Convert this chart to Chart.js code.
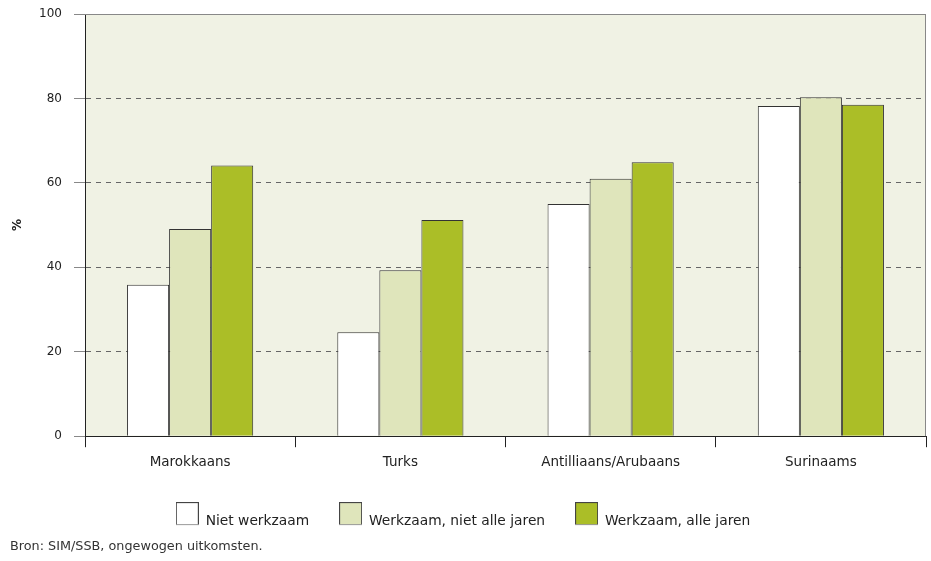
<!DOCTYPE html>
<html>
<head>
<meta charset="utf-8">
<script src="https://cdn.jsdelivr.net/npm/chart.js@4"></script>
<style>
  html, body { margin: 0; padding: 0; background: #fff; }
  #wrap { width: 931px; height: 561px; }
</style>
</head>
<body>
<div id="wrap"><canvas id="myChart" width="931" height="561"></canvas></div>
<script>
var categories = ['Marokkaans', 'Turks', 'Antilliaans/Arubaans', 'Surinaams']
var nietWerkzaam = [35.9, 24.6, 55.0, 78.2]
var werkzaamNietAlle = [49.1, 39.3, 61.0, 80.3]
var werkzaamAlle = [64.1, 51.2, 64.9, 78.5]
var seriesLabels = ['Niet werkzaam', 'Werkzaam, niet alle jaren', 'Werkzaam, alle jaren']
var yMin = 0, yMax = 100, yStep = 20
var footerText = 'Bron: SIM/SSB, ongewogen uitkomsten.'

var colors = ['#ffffff', '#dfe5bb', '#abbe27']

Chart.defaults.font.family = '"DejaVu Sans", "Liberation Sans", sans-serif'
Chart.defaults.color = '#222'

// legend swatch: box sits higher than the label text, like the original
function swatch(fill) {
  var c = document.createElement('canvas')
  c.width = 23
  c.height = 38
  var g = c.getContext('2d')
  g.fillStyle = fill
  g.fillRect(0, 0, 23, 23)
  g.strokeStyle = '#444'
  g.lineWidth = 1
  g.strokeRect(0.5, 0.5, 22, 22)
  g.strokeStyle = '#999'
  g.beginPath(); g.moveTo(0, 22.5); g.lineTo(23, 22.5); g.stroke()
  return c
}

var decor = {
  id: 'decor',
  beforeDraw: function(chart) {
    var a = chart.chartArea, ctx = chart.ctx
    ctx.save()
    ctx.fillStyle = '#f0f2e4'
    ctx.fillRect(a.left, a.top, a.right - a.left, a.bottom - a.top)
    ctx.restore()
  },
  beforeDatasetsDraw: function(chart) {
    var a = chart.chartArea, ctx = chart.ctx
    ctx.save()
    ctx.strokeStyle = '#888'
    ctx.lineWidth = 1
    ctx.beginPath()
    ctx.moveTo(a.left - 11, Math.round(a.top) + 0.5)
    ctx.lineTo(a.right, Math.round(a.top) + 0.5)
    ctx.moveTo(Math.round(a.right) - 0.5, a.top)
    ctx.lineTo(Math.round(a.right) - 0.5, a.bottom)
    ctx.stroke()
    ctx.restore()
  },
  afterDraw: function(chart) {
    var ctx = chart.ctx
    ctx.save()
    ctx.fillStyle = '#333'
    ctx.font = '12.8px "DejaVu Sans", "Liberation Sans", sans-serif'
    ctx.textBaseline = 'middle'
    ctx.fillText(footerText, 10, 547)
    ctx.restore()
  }
}

var seriesData = [nietWerkzaam, werkzaamNietAlle, werkzaamAlle]
var datasets = seriesData.map(function(d, i) {
  return {
    label: seriesLabels[i],
    data: d,
    backgroundColor: colors[i],
    borderColor: '#333',
    borderWidth: 1,
    pointStyle: swatch(colors[i]),
    categoryPercentage: 0.6,
    barPercentage: 1.0
  }
})

var ctx = document.getElementById('myChart')
var myChart = new Chart(ctx, {
  type: 'bar',
  data: { labels: categories, datasets: datasets },
  options: {
    responsive: false,
    animation: false,
    layout: { padding: { top: 14, right: 5, bottom: 23, left: 0 } },
    plugins: {
      tooltip: { enabled: false },
      legend: {
        position: 'bottom',
        labels: {
          usePointStyle: true,
          pointStyleWidth: 23,
          padding: 30,
          color: '#222',
          font: { size: 13.8 }
        }
      }
    },
    scales: {
      x: {
        offset: true,
        grid: {
          offset: true,
          drawOnChartArea: false,
          tickLength: 11,
          color: '#222'
        },
        border: { color: '#222', width: 1 },
        ticks: { padding: 7, font: { size: 13.5 }, color: '#222', maxRotation: 0 },
        afterFit: function(scale) { scale.height = 48 }
      },
      y: {
        min: yMin,
        max: yMax,
        ticks: { stepSize: yStep, padding: 12, font: { size: 12 }, color: '#222' },
        grid: {
          color: '#666',
          tickColor: '#888',
          tickLength: 11,
          lineWidth: 1
        },
        border: { color: '#222', width: 1, dash: [5, 5] },
        title: {
          display: true,
          text: '%',
          font: { size: 12, weight: 'bold' },
          color: '#222',
          padding: { top: 11, bottom: 0 }
        },
        afterFit: function(scale) {
          scale.width = 85
          scale.paddingTop = 0
          scale.paddingBottom = 0
        }
      }
    }
  },
  plugins: [decor]
})
</script>
</body>
</html>
